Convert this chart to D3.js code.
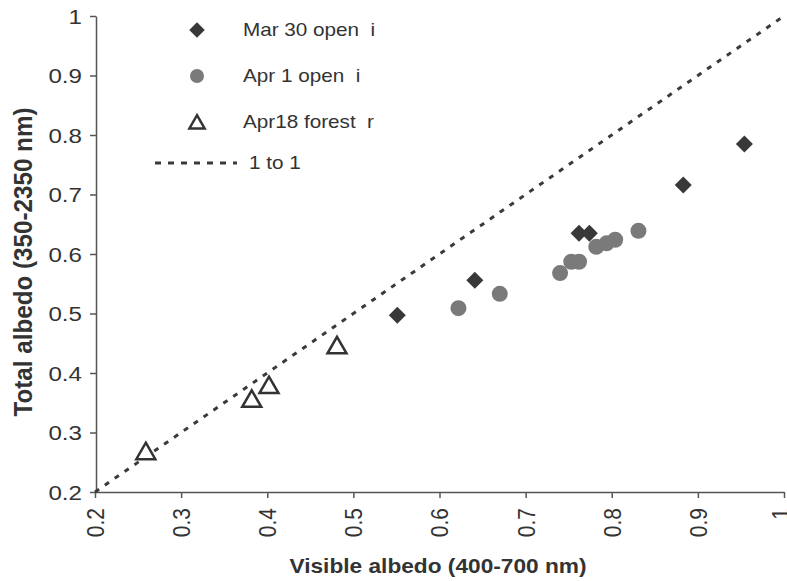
<!DOCTYPE html>
<html>
<head>
<meta charset="utf-8">
<script src="https://cdn.jsdelivr.net/npm/d3@7"></script>
<style>
  body { margin: 0; background: #fff; }
  text { font-family: "Liberation Sans", Arial, sans-serif; fill: #333; }
</style>
</head>
<body>
<div id="scatter"></div>
<script>
var svgWidth = 787;
var svgHeight = 581;

// scan is a bit wider than tall, so text gets stretched sideways
var stretch = 1.15;

// Mar 30 open (diamonds)
var marVisible = [0.551, 0.641, 0.762, 0.774, 0.883, 0.954];
var marTotal = [0.497, 0.556, 0.635, 0.635, 0.716, 0.785];

// Apr 1 open (circles)
var aprVisible = [0.622, 0.670, 0.740, 0.753, 0.762, 0.782, 0.794, 0.804, 0.831];
var aprTotal = [0.509, 0.533, 0.568, 0.587, 0.587, 0.612, 0.618, 0.624, 0.639];

// Apr18 forest (triangles)
var forVisible = [0.259, 0.382, 0.402, 0.481];
var forTotal = [0.269, 0.357, 0.380, 0.447];

// 1 to 1 line
var oneToOne = [0.2, 1];

var tickValues = [0.2, 0.3, 0.4, 0.5, 0.6, 0.7, 0.8, 0.9, 1];
var tickLabels = ["0.2", "0.3", "0.4", "0.5", "0.6", "0.7", "0.8", "0.9", "1"];

var legendLabels = ["Mar 30 open  i", "Apr 1 open  i", "Apr18 forest  r", "1 to 1"];

var svg = d3.select("#scatter")
    .append("svg")
    .attr("width", svgWidth)
    .attr("height", svgHeight);

var x = d3.scaleLinear().domain([0.2, 1]).range([95, 784]);
var y = d3.scaleLinear().domain([0.2, 1]).range([492, 16]);

function fmt(d) {
    return tickLabels[tickValues.indexOf(d)];
}

// y axis
var yAxis = svg.append("g")
    .attr("transform", "translate(96,0)")
    .call(d3.axisLeft(y).tickValues(tickValues).tickFormat(fmt).tickSize(6).tickSizeOuter(0));

yAxis.selectAll("text")
    .attr("x", null)
    .attr("dy", "0.35em")
    .attr("transform", "translate(-14,0) scale(" + stretch + ",1)")
    .style("font-size", "21px")
    .style("text-anchor", "end");

// x axis
var xAxis = svg.append("g")
    .attr("transform", "translate(0,492)")
    .call(d3.axisBottom(x).tickValues(tickValues).tickFormat(fmt).tickSize(6).tickSizeOuter(0));

// last label sits right at the edge, pull it in a touch
xAxis.selectAll("text")
    .attr("y", null)
    .attr("dy", "0.35em")
    .attr("transform", d => "translate(" + (d === 1 ? -4 : 0) + ",16) scale(" + stretch + ",1) rotate(-90)")
    .style("font-size", "21px")
    .style("text-anchor", "end");

svg.selectAll(".domain, .tick line")
    .attr("stroke", "#555")
    .attr("stroke-width", 1.5);

// 1 to 1 dashed line
var line = d3.line()
    .x(d => x(d))
    .y(d => y(d));

svg.append("path")
    .datum(oneToOne)
    .attr("d", line)
    .attr("fill", "none")
    .attr("stroke", "#3a3a3a")
    .attr("stroke-width", 3)
    .attr("stroke-dasharray", "5,7");

var diamond = d3.symbol().type(d3.symbolSquare).size(144);
var tri = d3.symbol().type(d3.symbolTriangle).size(156);
var triShift = Math.sqrt(156 * 4 / Math.sqrt(3)) * Math.sqrt(3) / 2 / 6;

// Apr 1 circles
svg.append("g").selectAll("circle")
    .data(aprVisible)
    .enter()
    .append("circle")
    .attr("cx", d => x(d))
    .attr("cy", (d, i) => y(aprTotal[i]))
    .attr("r", 8)
    .attr("fill", "#7a7a7a");

// Mar 30 diamonds
svg.append("g").selectAll("path")
    .data(marVisible)
    .enter()
    .append("path")
    .attr("d", diamond)
    .attr("transform", (d, i) => `translate(${x(d)},${y(marTotal[i])}) rotate(45)`)
    .attr("fill", "#383838");

// Apr18 forest triangles
svg.append("g").selectAll("path")
    .data(forVisible)
    .enter()
    .append("path")
    .attr("d", tri)
    .attr("transform", (d, i) => `translate(${x(d)},${y(forTotal[i]) + triShift})`)
    .attr("fill", "white")
    .attr("stroke", "#333")
    .attr("stroke-width", 2.5);

// legend
var legend = svg.append("g");

legend.append("path")
    .attr("d", d3.symbol().type(d3.symbolSquare).size(120))
    .attr("transform", "translate(197,30) rotate(45)")
    .attr("fill", "#383838");

legend.append("circle")
    .attr("cx", 197)
    .attr("cy", 76)
    .attr("r", 7)
    .attr("fill", "#7a7a7a");

legend.append("path")
    .attr("d", d3.symbol().type(d3.symbolTriangle).size(100))
    .attr("transform", "translate(197,124)")
    .attr("fill", "white")
    .attr("stroke", "#333")
    .attr("stroke-width", 2.5);

legend.append("line")
    .attr("x1", 155)
    .attr("x2", 237)
    .attr("y1", 163)
    .attr("y2", 163)
    .attr("stroke", "#3a3a3a")
    .attr("stroke-width", 3)
    .attr("stroke-dasharray", "6,7");

var legendY = [30, 76, 122, 163];
var legendX = [243, 243, 243, 249];

legend.selectAll("text")
    .data(legendLabels)
    .enter()
    .append("text")
    .attr("transform", (d, i) => `translate(${legendX[i]},${legendY[i]}) scale(${stretch},1)`)
    .attr("dy", "0.35em")
    .style("font-size", "18px")
    .style("white-space", "pre")
    .text(d => d);

// axis titles
svg.append("text")
    .attr("x", 438)
    .attr("y", 573)
    .attr("text-anchor", "middle")
    .attr("textLength", 297)
    .attr("lengthAdjust", "spacingAndGlyphs")
    .style("font-size", "21px")
    .style("font-weight", "bold")
    .text("Visible albedo (400-700 nm)");

svg.append("text")
    .attr("transform", `translate(32,262) scale(${stretch},1) rotate(-90)`)
    .attr("text-anchor", "middle")
    .attr("textLength", 309)
    .attr("lengthAdjust", "spacingAndGlyphs")
    .style("font-size", "22px")
    .style("font-weight", "bold")
    .text("Total albedo (350-2350 nm)");
</script>
</body>
</html>
